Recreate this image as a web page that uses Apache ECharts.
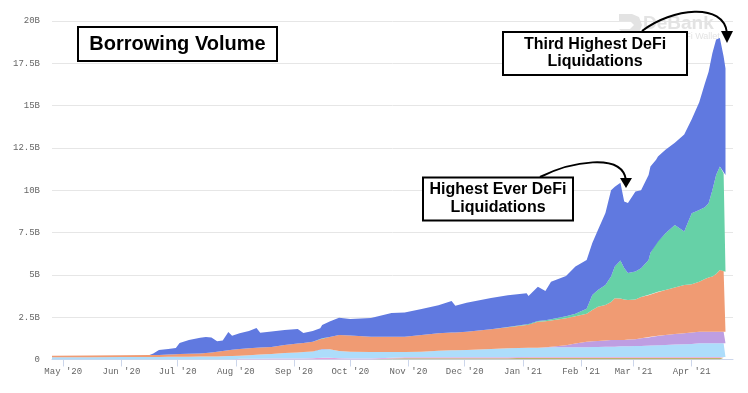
<!DOCTYPE html>
<html>
<head>
<meta charset="utf-8">
<script src="https://cdn.jsdelivr.net/npm/echarts@6/dist/echarts.min.js"></script>
<style>html,body{margin:0;padding:0;background:#fff;}#chart{width:748px;height:393px;}</style>
</head>
<body>
<div id="chart"></div>
<script>
// Dates of sampled points
var dates = ['2020-04-25','2020-05-15','2020-06-01','2020-06-16','2020-06-18','2020-06-21','2020-06-26','2020-06-30','2020-07-02','2020-07-07',
'2020-07-13','2020-07-16','2020-07-19','2020-07-22','2020-07-25','2020-07-28','2020-07-30','2020-08-03','2020-08-08','2020-08-12',
'2020-08-14','2020-08-20','2020-08-27','2020-09-03','2020-09-06','2020-09-11','2020-09-15','2020-09-16','2020-09-20','2020-09-25',
'2020-10-01','2020-10-12','2020-10-23','2020-10-30','2020-11-08','2020-11-17','2020-11-24','2020-11-26','2020-12-02','2020-12-15',
'2020-12-24','2021-01-03','2021-01-04','2021-01-09','2021-01-13','2021-01-16','2021-01-24','2021-01-29','2021-02-04','2021-02-07',
'2021-02-10','2021-02-14','2021-02-17','2021-02-19','2021-02-22','2021-02-24','2021-02-26','2021-03-02','2021-03-05','2021-03-09',
'2021-03-10','2021-03-13','2021-03-14','2021-03-18','2021-03-23','2021-03-28','2021-04-01','2021-04-05','2021-04-08','2021-04-10',
'2021-04-12','2021-04-14','2021-04-16','2021-04-18','2021-04-19'];

// Layer values in billions (bottom to top)
var olive = [0,0,0,0,0,0,0,0,0,0, 0,0,0,0,0,0,0,0,0,0, 0,0,0,0,0,0,0,0,0,0,
0,0,0.06,0.08,0.08,0.08,0.08,0.08,0.08,0.08, 0.08,0.1,0.1,0.1,0.1,0.1,0.1,0.1,0.1,0.1,
0.1,0.1,0.1,0.1,0.1,0.1,0.1,0.1,0.1,0.1, 0.1,0.1,0.1,0.1,0.1,0.1,0.1,0.1,0.1,0.1, 0.1,0.1,0.1,0.1,0.1];
var pink = [0,0,0,0,0,0,0,0,0,0, 0,0,0,0,0,0,0,0.05,0.05,0.05, 0.05,0.06,0.06,0.06,0.06,0.08,0.1,0.1,0.1,0.08,
0.06,0.06,0.05,0.05,0.05,0.05,0.05,0.05,0.05,0.05, 0.05,0.05,0.05,0.05,0.05,0.05,0.05,0.05,0.05,0.05,
0.05,0.05,0.05,0.05,0.05,0.05,0.05,0.05,0.05,0.05, 0.05,0.05,0.05,0.05,0.05,0.05,0.05,0.05,0.05,0.05, 0.05,0.05,0.05,0.05,0.05];
var lightBlue = [0.14,0.14,0.15,0.15,0.15,0.15,0.16,0.16,0.16,0.16, 0.17,0.17,0.18,0.18,0.19,0.20,0.21,0.17,0.20,0.23,
0.24,0.26,0.32,0.36,0.38,0.40,0.52,0.52,0.50,0.42, 0.40,0.38,0.33,0.31,0.33,0.39,0.42,0.42,0.43,0.49,
0.53,0.55,0.55,0.55,0.56,0.57,0.57,0.57,0.57,0.59, 0.59,0.61,0.61,0.61,0.63,0.63,0.63,0.65,0.65,0.67,
0.67,0.69,0.69,0.71,0.73,0.75,0.77,0.81,0.81,0.81, 0.81,0.81,0.81,0.81,0.81];
var purple = [0,0,0,0,0,0,0,0,0,0, 0,0,0,0,0,0,0,0,0,0, 0,0,0,0,0,0,0,0,0,0,
0,0,0,0,0,0,0,0,0,0, 0,0,0,0,0.02,0.04,0.12,0.22,0.33,0.34,
0.36,0.36,0.39,0.39,0.37,0.37,0.40,0.40,0.45,0.48, 0.53,0.54,0.56,0.59,0.62,0.65,0.68,0.68,0.68,0.68, 0.68,0.68,0.68,0.68,0.68];
var orange = [0.08,0.09,0.10,0.11,0.11,0.12,0.14,0.15,0.16,0.18, 0.19,0.21,0.24,0.28,0.31,0.34,0.36,0.40,0.41,0.42,
0.42,0.42,0.47,0.53,0.54,0.57,0.58,0.63,0.73,0.95, 0.96,0.91,0.91,0.91,0.99,1.03,1.05,1.05,1.08,1.16,
1.24,1.34,1.36,1.53,1.53,1.54,1.59,1.61,1.65,1.84, 2.02,2.10,2.25,2.47,2.45,2.40,2.34,2.35,2.45,2.50,
2.50,2.57,2.60,2.66,2.75,2.85,2.85,2.96,3.11,3.21, 3.26,3.41,3.65,3.61,3.55];
var green = [0,0,0,0,0,0,0,0,0,0, 0,0,0,0,0,0,0,0,0,0, 0,0,0,0,0,0,0,0,0,0,
0,0,0,0,0,0,0,0,0,0, 0.02,0.04,0.04,0.05,0.06,0.08,0.12,0.15,0.30,0.89,
0.98,1.18,1.50,1.87,2.25,1.85,1.59,1.65,1.69,2.08, 2.45,2.93,2.95,3.35,3.70,3.16,4.19,4.23,4.25,4.38, 5.10,5.85,6.11,5.75,5.71];
var blue = [0,0,0,0.01,0.09,0.29,0.32,0.37,0.65,0.81, 0.92,0.95,0.88,0.62,0.62,1.08,0.83,0.93,1.02,1.16,
0.87,0.91,0.90,0.85,0.59,0.63,0.65,0.79,0.92,1.02, 0.97,1.10,1.40,1.42,1.53,1.65,1.86,1.58,1.72,1.85,
1.88,1.83,1.65,2.02,1.73,2.22,2.38,2.79,2.88,3.08, 3.55,4.26,5.10,4.71,4.60,3.93,4.14,4.72,4.61,5.02,
5.10,4.92,5.05,4.94,4.85,5.74,5.56,6.37,7.30,7.77, 8.10,8.00,7.60,6.90,6.30];

var monthLabels = ['Jan','Feb','Mar','Apr','May','Jun','Jul','Aug','Sep','Oct','Nov','Dec'];
var yMax = 20, yStep = 2.5;

var layers = [
  {name:'olive', data: olive, color:'#BDB46C'},
  {name:'pink', data: pink, color:'#E7A3DC'},
  {name:'lightBlue', data: lightBlue, color:'#ADDDFB'},
  {name:'purple', data: purple, color:'#BE9EE2'},
  {name:'orange', data: orange, color:'#F09B73'},
  {name:'green', data: green, color:'#66D1A7'},
  {name:'blue', data: blue, color:'#6079E0'}
];

var series = layers.map(function(l){
  return {
    name: l.name, type:'line', stack:'total', showSymbol:false, symbol:'none',
    lineStyle:{width:0}, areaStyle:{color:l.color, opacity:1}, itemStyle:{color:l.color},
    data: dates.map(function(d,i){ return [d, l.data[i]]; }),
    z: 2
  };
});

var monoFont = '"Courier New", "Liberation Mono", monospace';
var boxFont = '"Liberation Sans", Arial, sans-serif';

var chart = echarts.init(document.getElementById('chart'));
chart.setOption({
  animation:false,
  backgroundColor:'#ffffff',
  grid:{left:52, right:15, top:21, bottom:33.5},
  xAxis:{
    type:'time', min:'2020-04-25', max:'2021-04-23',
    minInterval: 28*86400000, maxInterval: 31*86400000,
    axisLine:{show:true, lineStyle:{color:'#ccd6eb', width:1}},
    axisTick:{show:true, length:7, lineStyle:{color:'#ccd6eb'}},
    splitLine:{show:false},
    axisLabel:{
      color:'#666', fontFamily:monoFont, fontSize:9, margin:8,
      formatter:function(v){ var d=new Date(v); return monthLabels[d.getMonth()] + " '" + String(d.getFullYear()).slice(2); }
    }
  },
  yAxis:{
    type:'value', min:0, max:yMax, interval:yStep,
    axisLine:{show:false}, axisTick:{show:false},
    splitLine:{lineStyle:{color:'#e6e6e6', width:1}},
    axisLabel:{color:'#666', fontFamily:monoFont, fontSize:9, margin:12,
      formatter:function(v){ return v===0 ? '0' : v + 'B'; }}
  },
  series: series,
  graphic:[
    // watermark
    {type:'polygon', z:1, shape:{points:[[619,14],[632,14],[639,17],[642,25],[639,33],[632,36],[626,36],[619,29],[630,29],[634,25],[630,21],[619,21]]}, style:{fill:'#e3e3e3'}},
    {type:'text', z:1, left:643, top:14, style:{text:'DeBank', font:'bold 19px ' + boxFont, fill:'#e3e3e3'}},
    {type:'text', z:1, left:653, top:32, style:{text:'Your DeFi Wallet', font:'9px ' + boxFont, fill:'#e3e3e3'}},
    // title box
    {type:'rect', z:100, shape:{x:78, y:27, width:199, height:34}, style:{fill:'#fff', stroke:'#000', lineWidth:2}},
    {type:'text', z:101, x:177.5, y:44, style:{text:'Borrowing Volume', font:'bold 20px ' + boxFont, fill:'#000', textAlign:'center', textVerticalAlign:'middle'}},
    // annotation 1
    {type:'bezierCurve', z:100, shape:{x1:642, y1:31, cpx1:672, cpy1:8, cpx2:724, cpy2:2, x2:727, y2:33}, style:{fill:null, stroke:'#000', lineWidth:2}},
    {type:'polygon', z:100, shape:{points:[[721,31],[733,31],[727,43]]}, style:{fill:'#000'}},
    {type:'rect', z:100, shape:{x:503, y:32, width:184, height:43}, style:{fill:'#fff', stroke:'#000', lineWidth:2}},
    {type:'text', z:101, x:595, y:44.5, style:{text:'Third Highest DeFi', font:'bold 16px ' + boxFont, fill:'#000', textAlign:'center', textVerticalAlign:'middle'}},
    {type:'text', z:101, x:595, y:62, style:{text:'Liquidations', font:'bold 16px ' + boxFont, fill:'#000', textAlign:'center', textVerticalAlign:'middle'}},
    // annotation 2
    {type:'bezierCurve', z:100, shape:{x1:540, y1:177, cpx1:570, cpy1:162, cpx2:622, cpy2:152, x2:626, y2:180}, style:{fill:null, stroke:'#000', lineWidth:2}},
    {type:'polygon', z:100, shape:{points:[[620,178],[632,178],[626,188]]}, style:{fill:'#000'}},
    {type:'rect', z:100, shape:{x:423, y:177.5, width:150, height:43}, style:{fill:'#fff', stroke:'#000', lineWidth:2}},
    {type:'text', z:101, x:498, y:190, style:{text:'Highest Ever DeFi', font:'bold 16px ' + boxFont, fill:'#000', textAlign:'center', textVerticalAlign:'middle'}},
    {type:'text', z:101, x:498, y:207.5, style:{text:'Liquidations', font:'bold 16px ' + boxFont, fill:'#000', textAlign:'center', textVerticalAlign:'middle'}}
  ]
});
</script>
</body>
</html>
